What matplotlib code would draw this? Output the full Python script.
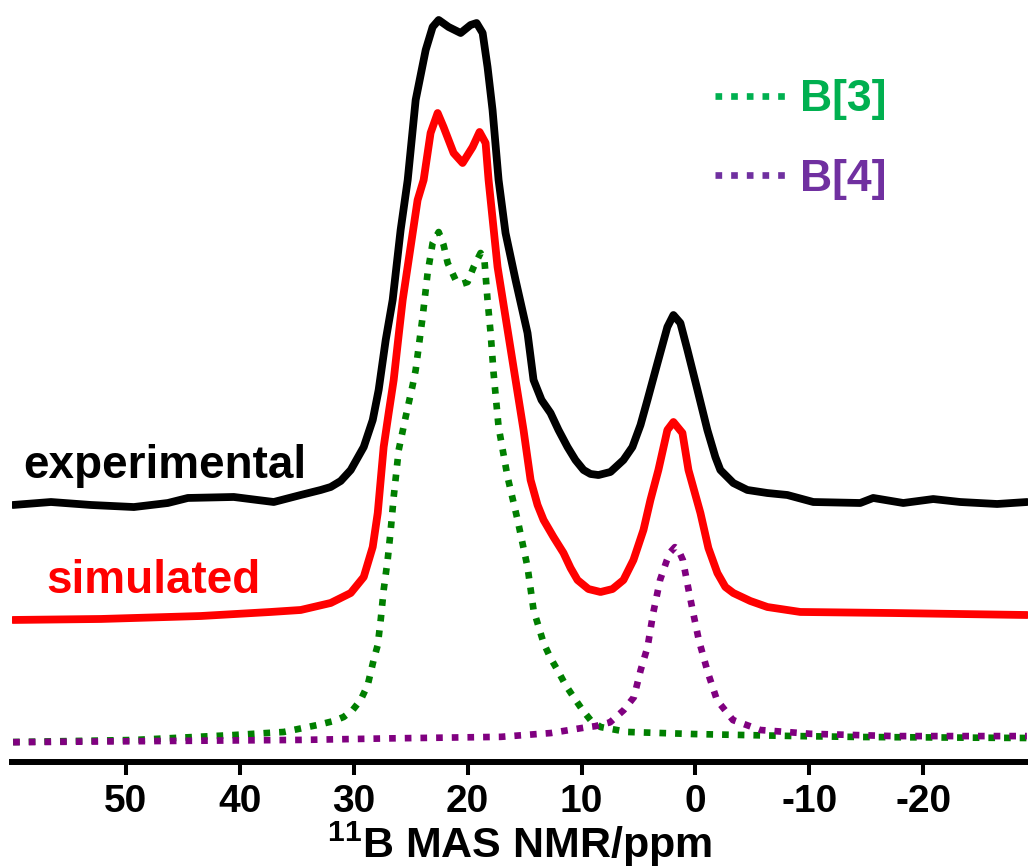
import matplotlib
matplotlib.use('Agg')
import matplotlib.pyplot as plt
from matplotlib.lines import Line2D

plt.rcParams['font.family'] = ['Liberation Sans', 'DejaVu Sans']
plt.rcParams['font.weight'] = 'bold'
plt.rcParams['mathtext.fontset'] = 'custom'
plt.rcParams['mathtext.rm'] = 'Liberation Sans:bold'
plt.rcParams['mathtext.bf'] = 'Liberation Sans:bold'

# experimental spectrum (ppm, intensity incl. stack offset)
exp_ppm = [59.91, 56.58, 53.07, 49.30, 46.32, 44.56, 40.53, 38.42, 37.02, 34.65,
           32.89, 32.02, 31.14, 30.26, 29.12, 28.33, 27.81, 27.19, 26.58, 25.88,
           25.26, 24.56, 23.68, 23.07, 22.54, 21.67, 20.61, 19.74, 19.21, 18.68,
           18.25, 17.81, 17.28, 16.67, 15.79, 14.74, 14.21, 13.51, 12.72, 12.02,
           11.23, 10.53, 9.82, 9.21, 8.51, 7.46, 6.32, 5.53, 4.82, 4.21,
           3.33, 2.46, 1.93, 1.32, 0.70, -0.18, -1.05, -1.75, -2.19, -3.33,
           -4.56, -6.32, -8.07, -10.35, -14.47, -15.61, -18.25, -20.88, -23.25, -26.49,
           -29.12]
exp_int = [33.73, 34.12, 33.73, 33.46, 33.99, 34.65, 34.78, 34.38, 34.12, 35.04,
           35.70, 36.09, 36.88, 38.32, 41.34, 44.88, 48.82, 55.38, 60.63, 69.82,
           76.38, 86.88, 93.44, 96.46, 97.38, 96.46, 95.67, 96.72, 96.98, 95.67,
           91.21, 85.56, 76.38, 69.42, 63.25, 56.30, 50.13, 47.51, 45.80, 43.57,
           41.34, 39.63, 38.32, 37.80, 37.66, 38.06, 39.63, 41.34, 44.23, 47.51,
           52.36, 57.09, 58.66, 57.61, 54.07, 48.82, 43.57, 40.03, 38.32, 36.61,
           35.70, 35.30, 35.04, 34.12, 33.99, 34.65, 33.99, 34.51, 34.12, 33.86,
           34.12]

# simulated spectrum
sim_ppm = [59.91, 52.19, 43.42, 37.28, 34.65, 32.02, 30.26, 29.12, 28.33, 27.89,
           27.63, 27.37, 26.93, 26.49, 26.05, 25.70, 24.39, 23.86, 23.25, 22.63,
           22.11, 21.23, 20.44, 19.56, 18.95, 18.42, 18.16, 17.37, 15.79, 15.09,
           14.47, 13.86, 13.33, 12.46, 11.58, 10.96, 10.35, 9.39, 8.33, 7.28,
           6.32, 5.44, 4.56, 3.95, 3.25, 2.46, 1.93, 1.14, 0.61, -0.44,
           -1.14, -1.93, -2.63, -3.33, -4.82, -6.32, -9.21, -17.37, -29.12]
sim_int = [18.64, 18.77, 19.16, 19.69, 19.95, 20.87, 22.18, 24.28, 28.22, 32.68,
           37.01, 41.34, 45.80, 50.13, 56.04, 60.63, 73.75, 76.38, 82.55, 85.17,
           83.33, 79.92, 78.61, 80.71, 82.68, 81.23, 76.38, 64.96, 50.13, 43.57,
           37.01, 33.73, 31.76, 29.53, 27.43, 25.46, 23.88, 22.70, 22.31, 22.70,
           23.88, 26.51, 30.45, 34.38, 38.32, 43.57, 44.62, 43.18, 38.32, 32.68,
           28.08, 24.80, 22.97, 22.18, 21.13, 20.34, 19.69, 19.55, 19.29]

# B[3] component
b3_ppm = [59.91, 49.30, 40.53, 36.14, 33.16, 31.75, 30.88, 30.09, 29.39, 28.77,
          28.25, 27.89, 27.63, 27.37, 27.02, 26.75, 26.49, 26.05, 25.44, 24.82,
          24.56, 23.95, 23.51, 23.07, 22.54, 22.11, 21.75, 21.05, 20.53, 20.00,
          19.47, 18.86, 18.51, 18.25, 17.98, 17.72, 17.28, 16.49, 15.61, 14.74,
          14.21, 13.33, 12.72, 12.11, 11.40, 10.70, 9.91, 9.21, 8.33, 5.96,
          0.18, -8.60, -14.47, -29.12]
b3_int = [2.62, 2.89, 3.54, 3.94, 4.86, 5.38, 5.91, 6.82, 8.14, 10.10,
          13.39, 15.35, 18.64, 22.57, 26.51, 30.45, 34.78, 40.94, 45.28, 49.48,
          51.44, 58.40, 64.17, 68.11, 69.55, 67.85, 65.49, 63.25, 62.73, 62.99,
          64.96, 66.80, 65.62, 60.63, 56.30, 51.05, 43.96, 37.40, 31.76, 25.59,
          19.95, 15.62, 13.65, 12.07, 10.10, 8.53, 6.82, 5.51, 4.59, 3.94,
          3.67, 3.41, 3.28, 3.15]

# B[4] component
b4_ppm = [59.9, 34.6, 26.8, 17.1, 12.7, 9.8, 8.8, 7.5, 6.3, 5.4, 4.8, 4.2, 3.7,
          3.1, 2.5, 2.19, 1.8, 1.49, 1.1, 0.6, 0.2, -0.3, -1.1, -1.9, -3.3, -5.7,
          -10.1, -17.4, -29.1]
b4_int = [2.6, 2.9, 3.1, 3.3, 3.8, 4.5, 4.7, 5.2, 6.8, 8.5, 12.1, 15.1, 19.6,
          23.9, 26.5, 27.56, 28.2, 27.82, 26.5, 22.6, 19.6, 16.0, 11.7, 8.1, 5.5,
          4.2, 3.7, 3.4, 3.4]

xticks = [50, 40, 30, 20, 10, 0, -10, -20]

fig = plt.figure(figsize=(10.28, 8.68), dpi=100)
ax = fig.add_axes([12 / 1028, 106 / 868, 1016 / 1028, 762 / 868])

dots = (0, (1, 1.35))
ax.plot(exp_ppm, exp_int, color='black', lw=5.6, solid_joinstyle='round', solid_capstyle='round')
ax.plot(sim_ppm, sim_int, color='#ff0000', lw=5.6, solid_joinstyle='round', solid_capstyle='round')
ax.plot(b3_ppm, b3_int, color='#007f00', lw=4.8, ls=dots, dash_capstyle='butt')
ax.plot(b4_ppm, b4_int, color='#800080', lw=4.8, ls=dots, dash_capstyle='butt')

ax.text(59.0, 37.3, 'experimental', color='black', fontsize=33, fontweight='bold', va='baseline')
ax.text(57.0, 22.2, 'simulated', color='#ff0000', fontsize=33, fontweight='bold', va='baseline')

handles = [Line2D([], [], color='#00b050', lw=4.8, ls=dots),
           Line2D([], [], color='#7030a0', lw=4.8, ls=dots)]
ax.legend(handles, ['B[3]', 'B[4]'], loc='upper left', bbox_to_anchor=(0.692, 0.896),
          frameon=False, handlelength=1.62, handletextpad=0.3,
          labelspacing=0.87, borderpad=0, borderaxespad=0,
          labelcolor=['#00b050', '#7030a0'], prop={'weight': 'bold', 'size': 32})

ax.set_xlim(60, -29.2)
ax.set_ylim(0, 100)
for s in ['top', 'right', 'left']:
    ax.spines[s].set_visible(False)
ax.spines['bottom'].set_linewidth(4.3)
ax.set_yticks([])
ax.set_xticks(xticks)
ax.set_xticklabels([str(t) for t in xticks])
ax.tick_params(axis='x', direction='out', length=9.5, width=2.9, pad=6, labelsize=28)
for lab in ax.get_xticklabels():
    lab.set_fontweight('bold')
ax.set_xlabel(r'$^{11}$B MAS NMR/ppm', fontsize=31, fontweight='bold', labelpad=0)

fig.savefig('out.png', dpi=100)
